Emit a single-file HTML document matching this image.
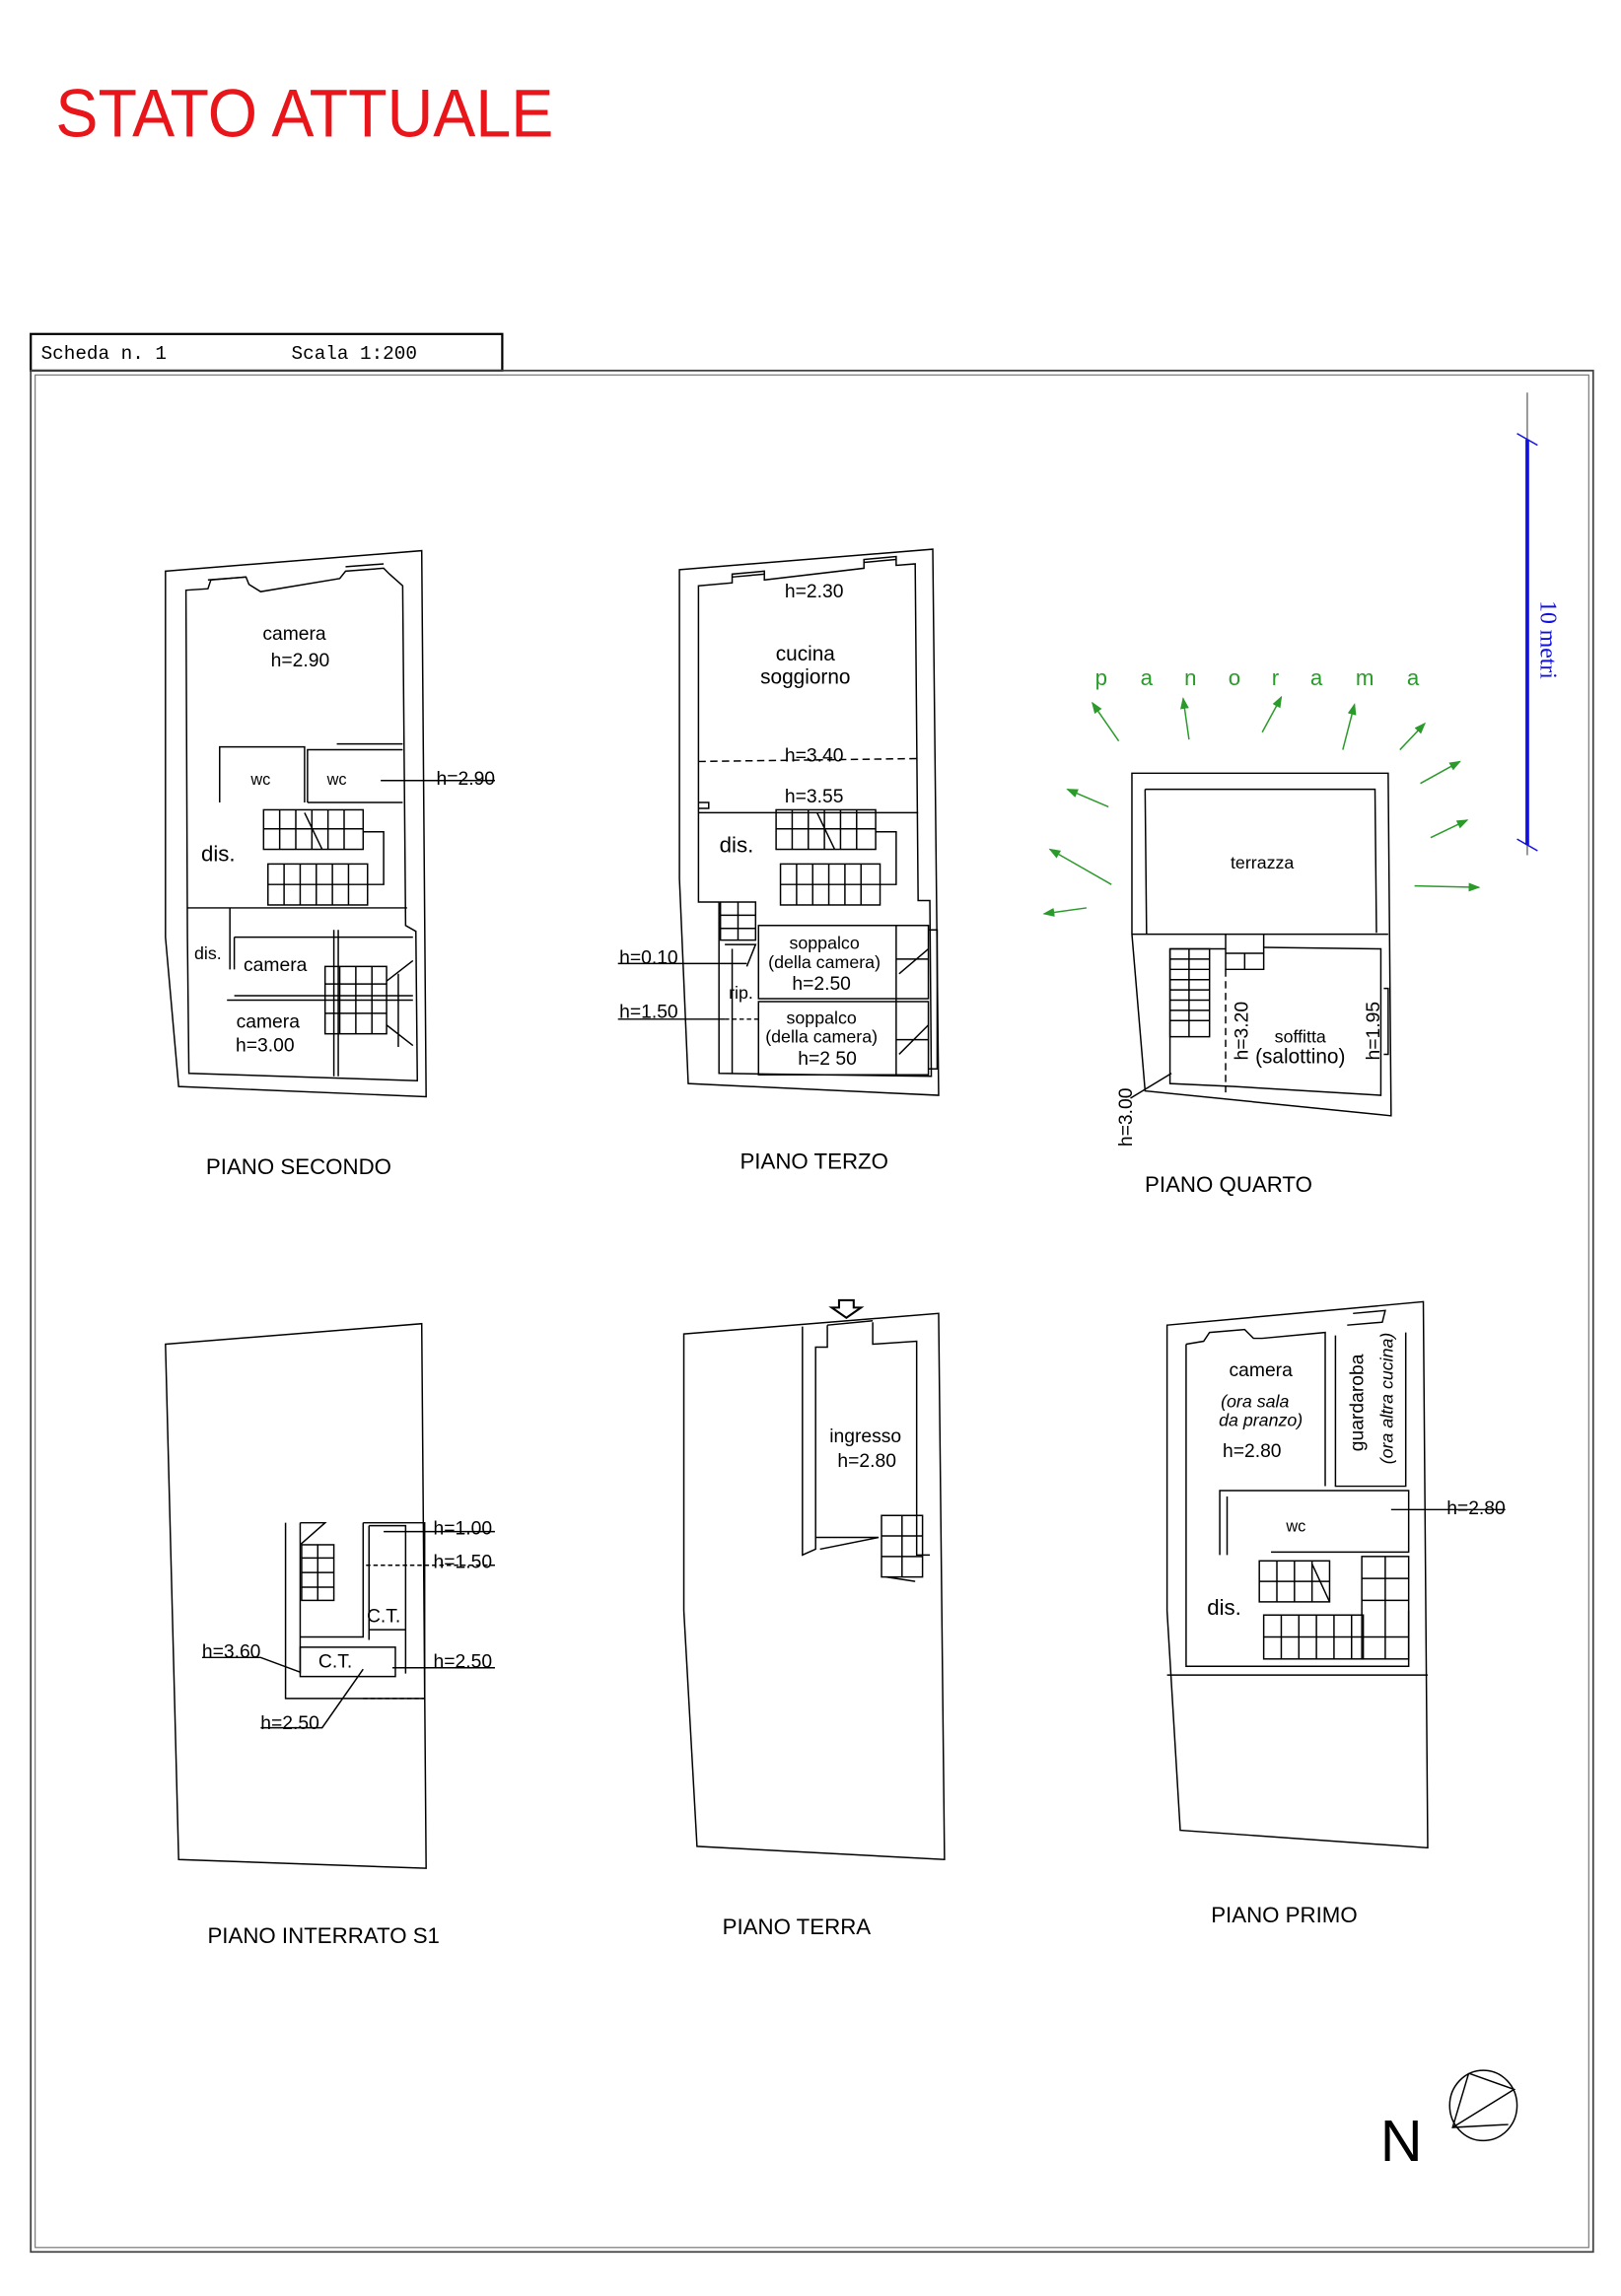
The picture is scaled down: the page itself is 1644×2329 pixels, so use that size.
<!DOCTYPE html>
<html><head><meta charset="utf-8"><style>
html,body{margin:0;padding:0;background:#fff;}
svg{display:block;}
text{font-family:"Liberation Sans",sans-serif;fill:#000;}
</style></head><body>
<svg width="1644" height="2329" viewBox="0 0 1107 1568" xmlns="http://www.w3.org/2000/svg">
<defs>
<marker id="ga" markerWidth="8" markerHeight="8" refX="7" refY="4" orient="auto" markerUnits="userSpaceOnUse"><path d="M0,1 L8,4 L0,7 Z" fill="#2a9a2a"/></marker>
</defs>
<rect width="1107" height="1568" fill="#fff"/>
<text x="38" y="93" font-size="46" textLength="340" lengthAdjust="spacingAndGlyphs" style="fill:#e8161b">STATO ATTUALE</text>

<rect x="21" y="228" width="322" height="25" fill="none" stroke="#000" stroke-width="1.5"/>
<text x="28" y="245" font-size="13" style="font-family:'Liberation Mono',monospace">Scheda n. 1</text>
<text x="199" y="245" font-size="13" style="font-family:'Liberation Mono',monospace">Scala 1:200</text>
<rect x="21" y="253" width="1067" height="1285" fill="none" stroke="#444" stroke-width="1.2"/>
<rect x="24" y="256" width="1061" height="1279" fill="none" stroke="#777" stroke-width="0.8"/>

<line x1="1043" y1="268" x2="1043" y2="584" stroke="#555" stroke-width="0.8"/>
<line x1="1043" y1="300" x2="1043" y2="577" stroke="#1010e0" stroke-width="2.5"/>
<line x1="1036" y1="296" x2="1050" y2="304" stroke="#1010e0"/>
<line x1="1036" y1="573" x2="1050" y2="581" stroke="#1010e0"/>
<text x="0" y="0" font-size="16" transform="translate(1052,410) rotate(90)" style="font-family:'Liberation Serif',serif;fill:#1010e0">10 metri</text>

<g fill="none" stroke="#000" stroke-width="1">
<path d="M113,390 L288,376 L291,749 L122,742 L113,640 Z"/>
<path d="M127,403 L142,402 L144,396 L168,394 L170,399 L178,404 L232,395 L236,390 L262,388 L266,392 L275,400 L277,632 L284,636 L285,738 L129,733 L128,640 Z"/>
<path d="M142,396 L168,394 M236,387 L262,385"/>
<line x1="128" y1="620" x2="278" y2="620"/>
<path d="M150,548 L150,510 L208,510 L208,548 M210,548 L210,512 L275,512 M210,548 L275,548"/>
<line x1="230" y1="508" x2="275" y2="508"/>
<rect x="180" y="553" width="68" height="27"/>
<path d="M180,566 L248,566 M191,553V580 M202,553V580 M213,553V580 M224,553V580 M235,553V580"/>
<rect x="183" y="590" width="68" height="28"/>
<path d="M183,604 L262,604 L262,568 L248,568 M194,590V618 M205,590V618 M216,590V618 M227,590V618 M238,590V618"/>
<path d="M208,555 L220,580"/>
<path d="M157,620 L157,662 M160,640 L282,640 M160,640 L160,662"/>
<path d="M228,635 L228,735 M231,635 L231,735"/>
<path d="M160,680 L282,680 M155,683 L282,683"/>
<rect x="222" y="660" width="42" height="46"/>
<path d="M222,672 L264,672 M222,692 L264,692 M232,660V706 M243,660V706 M254,660V706"/>
<path d="M264,670 L282,656 M264,700 L282,714 M272,665 L272,715"/>
<line x1="260" y1="533" x2="338" y2="533"/>

<path d="M464,389 L637,375 L641,748 L470,740 L464,600 Z"/>
<path d="M477,400 L500,398 L500,392 L522,390 L522,396 L590,388 L590,382 L612,380 L612,386 L625,385 L627,615 L635,615 L636,735 L491,733 L491,616 L477,616 Z"/>
<path d="M500,394 L522,392 M590,384 L612,382"/>
<line x1="477" y1="520" x2="627" y2="518" stroke-dasharray="5,3"/>
<line x1="477" y1="555" x2="627" y2="555"/>
<path d="M477,548 L484,548 L484,552 L477,552"/>
<rect x="530" y="553" width="68" height="27"/>
<path d="M530,566 L598,566 M541,553V580 M552,553V580 M563,553V580 M574,553V580 M585,553V580 M558,555 L570,580"/>
<rect x="533" y="590" width="68" height="28"/>
<path d="M533,604 L612,604 L612,568 L598,568 M544,590V618 M555,590V618 M566,590V618 M577,590V618 M588,590V618"/>
<rect x="492" y="616" width="24" height="26"/>
<path d="M492,625 L516,625 M492,634 L516,634 M504,616 V642"/>
<rect x="518" y="632" width="116" height="50"/>
<rect x="518" y="684" width="116" height="50"/>
<path d="M634,635 L640,635 L640,730 L634,730 M612,632 L612,734 M612,655 L634,655 M612,710 L634,710 M614,665 L634,648 M614,720 L634,700"/>
<path d="M495,645 L516,645 L510,660 M500,648 L500,733"/>
<line x1="422" y1="658" x2="510" y2="658"/>
<line x1="422" y1="696" x2="495" y2="696"/>
<line x1="495" y1="696" x2="518" y2="696" stroke-dasharray="3,2"/>

<path d="M773,528 L948,528 L950,762 L782,745 L773,638 Z"/>
<path d="M782,539 L939,539 L940,637 M782,539 L783,638"/>
<line x1="773" y1="638" x2="948" y2="638"/>
<path d="M837,638 L837,662 L863,662 L863,638"/>
<path d="M799,648 L837,648 M863,647 L943,648 L943,748 L843,742 L799,740 L799,648"/>
<rect x="799" y="648" width="27" height="60"/>
<path d="M799,655 L826,655 M799,662 L826,662 M799,669 L826,669 M799,676 L826,676 M799,683 L826,683 M799,690 L826,690 M799,697 L826,697 M812,648 V708"/>
<path d="M837,651 L863,651 M850,651 V662"/>
<line x1="837" y1="662" x2="837" y2="746" stroke-dasharray="5,3"/>
<path d="M945,675 L948,675 L948,720 L945,720"/>
<line x1="772" y1="750" x2="800" y2="733"/>

<path d="M113,918 L288,904 L291,1276 L122,1270 Z"/>
<path d="M195,1040 L195,1160 L290,1160 L290,1040 L248,1040"/>
<path d="M205,1040 L205,1143 M205,1118 L248,1118 L248,1040 M205,1040 L222,1040 L205,1055"/>
<rect x="206" y="1055" width="22" height="38"/>
<path d="M206,1064 L228,1064 M206,1074 L228,1074 M206,1084 L228,1084 M217,1055 V1093"/>
<path d="M252,1042 L277,1042 L277,1143 M252,1042 L252,1120 M252,1113 L277,1113"/>
<path d="M205,1125 L270,1125 L270,1145 L205,1145 Z"/>
<path d="M248,1160 L290,1160" stroke-dasharray="3,2"/>
<line x1="262" y1="1046" x2="338" y2="1046"/>
<line x1="250" y1="1069" x2="338" y2="1069" stroke-dasharray="3,2"/>
<line x1="268" y1="1139" x2="338" y2="1139"/>
<path d="M138,1132 L178,1132 L205,1142"/>
<path d="M178,1180 L220,1180 L248,1140"/>

<path d="M467,911 L641,897 L645,1270 L476,1261 L467,1100 Z"/>
<path d="M548,906 L548,1062 L557,1058 L557,920 L565,920 L565,905 M596,903 L596,918 L626,916 L626,1062 L635,1062"/>
<path d="M565,905 L596,902"/>
<path d="M557,1050 L600,1050 L560,1058"/>
<rect x="602" y="1035" width="28" height="42"/>
<path d="M602,1049 L630,1049 M602,1063 L630,1063 M616,1035 V1077 M605,1077 L625,1080"/>
<path d="M573,888 L583,888 L583,893 L588,893 L578,900 L568,893 L573,893 Z" stroke-width="1.4"/>

<path d="M797,905 L972,889 L975,1262 L806,1250 L797,1100 Z"/>
<path d="M797,1144 L975,1144"/>
<path d="M810,918 L822,916 L826,910 L850,908 L856,914 L862,914 L905,910 L905,1015 M912,912 L912,1015 L960,1015 L960,910 M920,905 L944,903 L946,895 L924,897"/>
<path d="M810,918 L810,1138 L962,1138 L962,1100"/>
<path d="M833,1062 L833,1018 L962,1018 L962,1060 L868,1060 M838,1062 L838,1022"/>
<rect x="860" y="1066" width="48" height="28"/>
<path d="M860,1080 L908,1080 M872,1066 V1094 M884,1066 V1094 M896,1066 V1094 M896,1068 L908,1094"/>
<rect x="863" y="1103" width="68" height="30"/>
<path d="M863,1118 L962,1118 M875,1103 V1133 M887,1103 V1133 M899,1103 V1133 M911,1103 V1133 M923,1103 V1133"/>
<rect x="930" y="1063" width="32" height="70"/>
<path d="M930,1078 L962,1078 M930,1093 L962,1093 M946,1063 V1133"/>
<line x1="950" y1="1031" x2="1028" y2="1031"/>

<ellipse cx="1013" cy="1438" rx="23" ry="24"/>
<path d="M1003,1416 L992,1453 L1030,1451 M1003,1416 L1034,1427 L992,1453"/>
</g>

<g stroke="#2a9a2a" stroke-width="1" marker-end="url(#ga)">
<line x1="764" y1="506" x2="746" y2="480"/>
<line x1="812" y1="505" x2="808" y2="477"/>
<line x1="862" y1="500" x2="875" y2="476"/>
<line x1="917" y1="512" x2="925" y2="481"/>
<line x1="956" y1="512" x2="973" y2="494"/>
<line x1="970" y1="535" x2="997" y2="520"/>
<line x1="977" y1="572" x2="1002" y2="560"/>
<line x1="966" y1="605" x2="1010" y2="606"/>
<line x1="757" y1="551" x2="729" y2="539"/>
<line x1="759" y1="604" x2="717" y2="580"/>
<line x1="742" y1="620" x2="713" y2="624"/>
</g>
<g font-size="15" text-anchor="middle">
<text x="752" y="468" style="fill:#2a9a2a">p</text><text x="783" y="468" style="fill:#2a9a2a">a</text><text x="813" y="468" style="fill:#2a9a2a">n</text><text x="843" y="468" style="fill:#2a9a2a">o</text><text x="871" y="468" style="fill:#2a9a2a">r</text><text x="899" y="468" style="fill:#2a9a2a">a</text><text x="932" y="468" style="fill:#2a9a2a">m</text><text x="965" y="468" style="fill:#2a9a2a">a</text>
</g>

<g font-size="13" text-anchor="middle">
<text x="201" y="437">camera</text>
<text x="205" y="455">h=2.90</text>
<text x="178" y="536" font-size="11">wc</text>
<text x="230" y="536" font-size="11">wc</text>
<text x="318" y="536">h=2.90</text>
<text x="149" y="588" font-size="15">dis.</text>
<text x="142" y="655" font-size="12">dis.</text>
<text x="188" y="663">camera</text>
<text x="183" y="702">camera</text>
<text x="181" y="718">h=3.00</text>
<text x="204" y="802" font-size="15">PIANO SECONDO</text>

<text x="556" y="408">h=2.30</text>
<text x="550" y="451" font-size="14">cucina</text>
<text x="550" y="467" font-size="14">soggiorno</text>
<text x="556" y="520">h=3.40</text>
<text x="556" y="548">h=3.55</text>
<text x="503" y="582" font-size="15">dis.</text>
<text x="563" y="648" font-size="12">soppalco</text>
<text x="563" y="661" font-size="12">(della camera)</text>
<text x="561" y="676">h=2.50</text>
<text x="506" y="682" font-size="12">rip.</text>
<text x="561" y="699" font-size="12">soppalco</text>
<text x="561" y="712" font-size="12">(della camera)</text>
<text x="565" y="727">h=2 50</text>
<text x="443" y="658">h=0.10</text>
<text x="443" y="695">h=1.50</text>
<text x="556" y="798" font-size="15">PIANO TERZO</text>

<text x="862" y="593" font-size="12">terrazza</text>
<text x="888" y="712" font-size="12">soffitta</text>
<text x="888" y="726" font-size="14">(salottino)</text>
<text transform="translate(852,704) rotate(-90)" x="0" y="0">h=3.20</text>
<text transform="translate(942,704) rotate(-90)" x="0" y="0">h=1.95</text>
<text transform="translate(773,763) rotate(-90)" x="0" y="0">h=3.00</text>
<text x="839" y="814" font-size="15">PIANO QUARTO</text>

<text x="316" y="1048">h=1.00</text>
<text x="316" y="1071">h=1.50</text>
<text x="262" y="1108">C.T.</text>
<text x="229" y="1139">C.T.</text>
<text x="158" y="1132">h=3.60</text>
<text x="316" y="1139">h=2.50</text>
<text x="198" y="1181">h=2.50</text>
<text x="221" y="1327" font-size="15">PIANO INTERRATO S1</text>

<text x="591" y="985">ingresso</text>
<text x="592" y="1002">h=2.80</text>
<text x="544" y="1321" font-size="15">PIANO TERRA</text>

<text x="861" y="940">camera</text>
<text x="857" y="961" font-size="12" font-style="italic">(ora sala</text>
<text x="861" y="974" font-size="12" font-style="italic">da pranzo)</text>
<text x="855" y="995">h=2.80</text>
<text transform="translate(931,958) rotate(-90)" x="0" y="0">guardaroba</text>
<text transform="translate(951,955) rotate(-90)" x="0" y="0" font-size="12" font-style="italic">(ora altra cucina)</text>
<text x="885" y="1046" font-size="11">wc</text>
<text x="836" y="1103" font-size="15">dis.</text>
<text x="1008" y="1034">h=2.80</text>
<text x="877" y="1313" font-size="15">PIANO PRIMO</text>

<text x="957" y="1476" font-size="40">N</text>
</g>
</svg>
</body></html>
